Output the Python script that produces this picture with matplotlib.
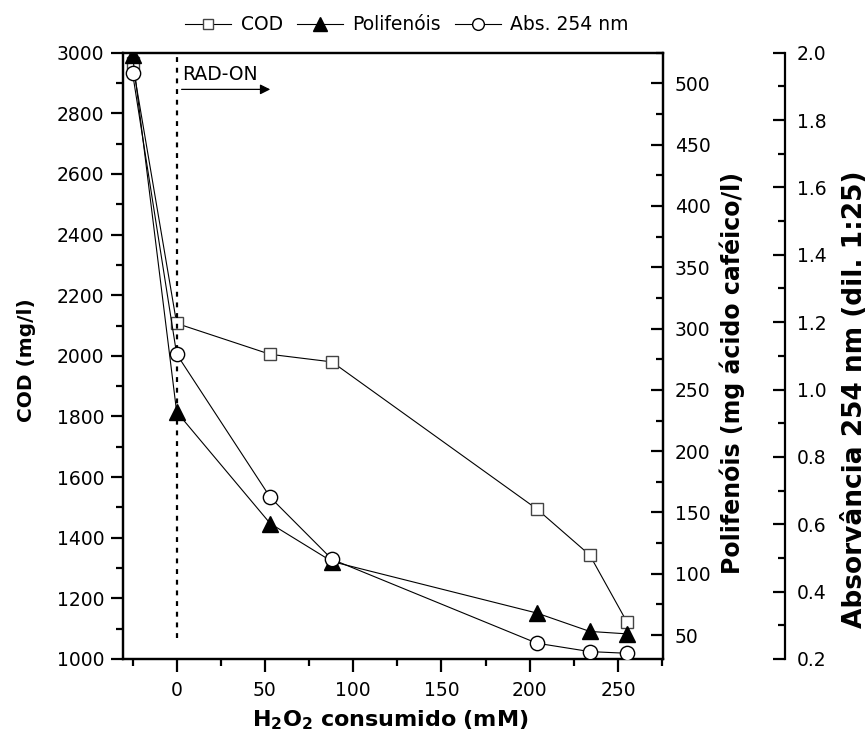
import matplotlib
matplotlib.use("Agg")
import matplotlib.pyplot as plt

plt.rcParams['font.family'] = ['DejaVu Sans']
plt.rcParams['mathtext.fontset'] = 'dejavusans'

# Data
h2o2 = [-25, 0, 53, 88, 204, 234, 255]
cod = [2965, 2107, 2005, 1980, 1495, 1343, 1123]
polifenois = [523, 232, 141, 110, 68, 53, 51]
abs254 = [1.94, 1.105, 0.68, 0.496, 0.247, 0.222, 0.217]

xticks = [0, 50, 100, 150, 200, 250]
cod_ticks = list(range(1000, 3001, 200))
pol_ticks = list(range(50, 501, 50))
abs_ticks = [0.2, 0.4, 0.6, 0.8, 1.0, 1.2, 1.4, 1.6, 1.8, 2.0]

W, H = 866, 736
fig = plt.figure(figsize=(W/100, H/100), dpi=100)
ax = fig.add_axes([123/W, 1-659/H, 540/W, (659-52.7)/H])
ax2 = ax.twinx()
ax3 = ax.twinx()
ax3.spines['right'].set_position(('axes', (785-123)/540))

lw = 0.8
l1, = ax.plot(h2o2, cod, color='black', lw=lw, marker='s', ms=8.4,
              mfc='white', mec='#444444', mew=1.0, label='COD')
l2, = ax2.plot(h2o2, polifenois, color='black', lw=lw, marker='^', ms=11.5,
               mfc='black', mec='black', label='Polifenóis')
l3, = ax3.plot(h2o2, abs254, color='black', lw=lw, marker='o', ms=10.3,
               mfc='white', mec='black', mew=1.0, label='Abs. 254 nm')

# RAD-ON marker
ax.plot([0, 0], [1070, 3000], color='black', lw=1.6, ls=(0, (2.2, 2.6)))
ax.annotate('', xy=(53, 2879), xytext=(2.8, 2879),
            arrowprops=dict(arrowstyle='-|>', color='black', lw=0.9,
                            mutation_scale=15, shrinkA=0, shrinkB=0))
ax.text(3.3, 2927, 'RAD-ON', fontsize=13.5, va='center', ha='left')

ax.set_xlim(-30.4, 275.5)
ax.set_ylim(1000, 3000)
ax2.set_ylim(30.5, 520.5)
ax3.set_ylim(0.2, 2.0)

ax.set_xticks(xticks)
ax.set_xticks([-25, 25, 75, 125, 175, 225, 275], minor=True)
ax.set_yticks(cod_ticks)
ax.set_yticks(list(range(1100, 3000, 200)), minor=True)
ax2.set_yticks(pol_ticks)
ax2.set_yticks(list(range(75, 526, 50)), minor=True)
ax3.set_yticks(abs_ticks)
ax3.set_yticks([0.3, 0.5, 0.7, 0.9, 1.1, 1.3, 1.5, 1.7, 1.9], minor=True)
ax3.set_yticklabels(['%.1f' % t for t in abs_ticks])

for a in (ax, ax2, ax3):
    for s in a.spines.values():
        s.set_linewidth(1.6)

fs = 13.5
ax.tick_params(axis='y', which='major', direction='out', length=8.5, width=1.6,
               labelsize=fs, pad=5, right=False)
ax.tick_params(axis='x', which='major', direction='out', length=9.5, width=1.6,
               labelsize=fs, pad=6.5, top=False)
ax.tick_params(axis='both', which='minor', direction='out', length=5, width=1.6,
               top=False, right=False)
ax2.tick_params(axis='y', which='major', direction='in', length=8.5, width=1.6,
                labelsize=fs, pad=8.5)
ax2.tick_params(axis='y', which='minor', direction='in', length=5, width=1.6)
ax3.tick_params(axis='y', which='major', direction='in', length=8.5, width=1.6,
                labelsize=fs, pad=8.4)
ax3.tick_params(axis='y', which='minor', direction='in', length=5, width=1.6)
ax3.spines['top'].set_visible(False)
ax3.spines['left'].set_visible(False)
ax3.spines['bottom'].set_visible(False)

# Axis titles
fig.text(390.5/W, 1-726.7/H, r'$\mathbf{H_2O_2}$' + r'$\mathbf{\ consumido\ (mM)}$',
         fontsize=16, ha='center', va='baseline')
fig.text(32/W, 1-360.5/H, 'COD (mg/l)', fontsize=14.5, fontweight='bold',
         rotation=90, rotation_mode='anchor', ha='center', va='baseline')
fig.text(740/W, 1-373/H, 'Polifenóis (mg ácido caféico/l)', fontsize=17,
         fontweight='bold', rotation=90, rotation_mode='anchor', ha='center', va='baseline')
fig.text(861.7/W, 1-399/H, 'Absorvância 254 nm (dil. 1:25)', fontsize=19,
         fontweight='bold', rotation=90, rotation_mode='anchor', ha='center', va='baseline')

fig.legend(handles=[l1, l2, l3], loc='center', bbox_to_anchor=(407/W, 1-25/H),
           ncol=3, frameon=False, fontsize=fs, handlelength=2.45,
           handletextpad=0.5, columnspacing=0.75, markerscale=0.82)

fig.savefig('out.png', dpi=100)
